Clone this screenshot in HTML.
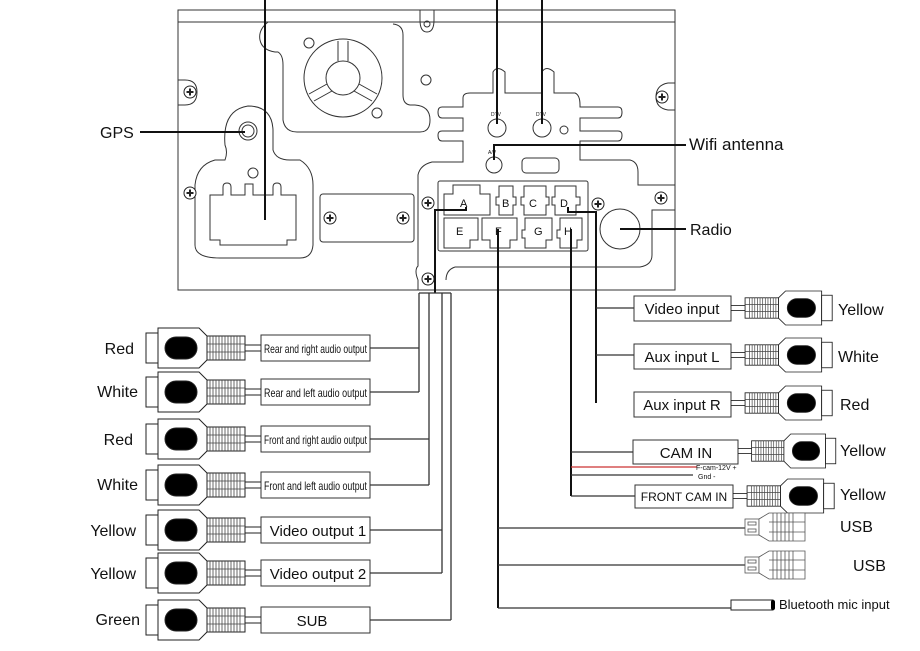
<!DOCTYPE html>
<html><head><meta charset="utf-8"><style>
body{margin:0;background:#fff}
svg{display:block}
text{font-family:"Liberation Sans",sans-serif;fill:#111}
</style></head><body>
<svg width="920" height="651" viewBox="0 0 920 651" xmlns="http://www.w3.org/2000/svg">
<defs>
<g id="plug" stroke="#222" stroke-width="1" fill="#fff">
 <line x1="-16" y1="-3" x2="0" y2="-3"/><line x1="-16" y1="3" x2="0" y2="3"/>
 <rect x="-54" y="-12" width="38" height="24"/>
 <path d="M-51-12V12M-48-12V12M-45-12V12M-42-12V12M-39-12V12M-36-12V12M-33-12V12M-30-12V12M-27-12V12M-24-12V12M-21-12V12M-54-4H-16M-54 4H-16" stroke="#444" stroke-width="0.8"/>
 <polygon points="-54,-12 -62,-20 -103,-20 -103,20 -62,20 -54,12"/>
 <rect x="-96" y="-11" width="32" height="22" rx="11" fill="#000"/>
 <rect x="-115" y="-15" width="12" height="30"/>
</g>
<g id="screw" fill="#fff" stroke="#222"><circle r="6"/><path d="M-3.5 0H3.5M0-3.5V3.5" stroke-width="2"/></g>
<g id="usb" stroke="#555" fill="#fff" stroke-width="0.8">
 <rect x="0" y="-8" width="14" height="16"/>
 <rect x="3" y="-5" width="8" height="3"/><rect x="3" y="2" width="8" height="3"/>
 <polygon points="14,-8 24,-14 60,-14 60,14 24,14 14,8"/>
 <path d="M28-14V14M32-14V14M36-14V14M40-14V14M44-14V14M48-14V14M24-5H60M24 5H60"/>
</g>
</defs>

<!-- device -->
<g fill="none" stroke="#333" stroke-width="1">
 <rect x="178" y="10" width="497" height="280"/>
 <line x1="178" y1="22" x2="675" y2="22"/>
 <path d="M178 80H185Q197 80 197 92Q197 105 185 105H178"/>
 <path d="M675 83H668Q656 85 656 97Q656 108 668 110H675"/>
 <path d="M420 10V20Q420 32 427 32Q434 32 434 20V10"/>
 <circle cx="427" cy="24" r="3"/>
 <path d="M268 22Q258 30 260 40Q262 50 275 52H278Q283 55 283 65V120Q285 132 297 132H420Q430 132 430 120Q430 106 415 105H410Q403 104 403 95V35Q403 25 393 24"/>
 <circle cx="343" cy="78" r="39"/><circle cx="343" cy="78" r="17"/>
 <path d="M338 41V61M348 41V61M327 84L309 94M332 91L314 101M359 84L377 94M354 91L372 101"/>
 <circle cx="309" cy="43" r="5"/><circle cx="377" cy="113" r="5"/>
 <circle cx="426" cy="80" r="5"/>
 <path d="M220 258Q195 258 195 245V185Q197 165 215 160H225Q228 152 225 145Q222 110 248 106Q272 106 273 130V150Q276 160 290 160H300Q313 168 313 185V245Q312 258 300 258Z"/>
 <circle cx="248" cy="131" r="9"/><circle cx="248" cy="131" r="6"/>
 <circle cx="253" cy="173" r="5"/>
 <path d="M210 195H223V187Q223 183 227 183Q231 183 231 187V195H245V184H253V195H273V187Q273 183 277 183Q281 183 281 187V195H296V240H287V245H220V240H210Z"/>
 <rect x="320" y="194" width="94" height="48" rx="3"/>
 <path d="M418 290V280Q414 270 418 266V175Q420 165 432 162H463V141H442Q438 141 438 135Q438 131 442 131H463V118H442Q438 118 438 112Q438 107 442 107H463V98Q463 93 470 93H493V72Q497 65 505 72V93H542V72Q546 65 554 72V93H575Q580 95 580 105V107H618Q622 107 622 112Q622 118 618 118H580V131H618Q622 131 622 135Q622 141 618 141H580V160H630Q638 162 638 172V185H675"/>
 <path d="M455 267H640Q652 265 652 255V210H675"/>
 <path d="M455 267Q446 270 446 280"/>
 <circle cx="497" cy="128" r="9"/><circle cx="542" cy="128" r="9"/><circle cx="494" cy="165" r="8"/>
 <circle cx="564" cy="130" r="4"/>
 <rect x="522" y="158" width="37" height="15" rx="4"/>
 <circle cx="620" cy="229" r="20"/>
 <rect x="438" y="181" width="150" height="70" rx="2"/>
 <path d="M444 215V194H453V185H480V194H490V215Z"/>
 <path d="M499 215V205H496V197H499V186H513V197H516V205H513V215Z"/>
 <path d="M524 215V205H521V197H524V186H546V197H549V205H546V215Z"/>
 <path d="M555 215V205H552V197H555V186H576V197H580V205H576V215Z"/>
 <path d="M444 248V218H478V240H470V248Z"/>
 <path d="M482 218H517V240H510V248H490V240H482Z"/>
 <path d="M525 248V238H522V230H525V218H552V240H546V248Z"/>
 <path d="M560 248V238H557V230H560V218H582V240H577V248Z"/>
</g>
<g font-size="11">
 <text x="460" y="207">A</text><text x="502" y="207">B</text><text x="529" y="207">C</text><text x="560" y="207">D</text>
 <text x="456" y="235">E</text><text x="495" y="235">F</text><text x="534" y="235">G</text><text x="564" y="235">H</text>
</g>
<g font-size="5" fill="#555"><text x="491" y="116">DTV</text><text x="536" y="116">DTV</text><text x="488" y="154">A/V</text></g>
<use href="#screw" x="190" y="92"/><use href="#screw" x="190" y="193"/>
<use href="#screw" x="330" y="218"/><use href="#screw" x="403" y="218"/>
<use href="#screw" x="428" y="203"/><use href="#screw" x="428" y="279"/>
<use href="#screw" x="598" y="204"/><use href="#screw" x="662" y="97"/><use href="#screw" x="661" y="198"/>

<g stroke="#111" stroke-width="2" fill="none">
 <path d="M140 132H245"/>
 <path d="M265 0V220"/>
 <path d="M497 0V124M542 0V124"/>
 <path d="M494 160V145H686"/>
 <path d="M620 229H686"/>
 <path d="M466 207V210H435V293"/>
 <path d="M568 207V212H596V403"/>
 <path d="M498 229V608"/>
 <path d="M571 229V496"/>
</g>
<text x="100" y="138" font-size="16">GPS</text>
<text x="689" y="150" font-size="17">Wifi antenna</text>
<text x="690" y="235" font-size="16">Radio</text>

<g stroke="#333" stroke-width="1.3" fill="none">
 <path d="M419 293H451"/>
 <path d="M419 293V392M370 348H419M370 392H419"/>
 <path d="M429 293V485M370 439H429M370 485H429"/>
 <path d="M442 293V573M370 530H442M370 573H442"/>
 <path d="M451 293V620M370 620H451"/>
 <path d="M596 308H634M596 355H634"/>
 <path d="M571 452H633M571 496H635"/>
 <path d="M571 475H693"/>
 <path d="M498 528H745M498 565H745M498 608H731"/>
</g>
<path d="M571 467H697" stroke="#c33" stroke-width="1.3"/>
<text x="696" y="470" font-size="7">F-cam-12V +</text>
<text x="698" y="479" font-size="7">Gnd -</text>

<g fill="#fff" stroke="#333">
 <rect x="261" y="335" width="109" height="26"/><rect x="261" y="379" width="109" height="26"/>
 <rect x="261" y="426" width="109" height="26"/><rect x="261" y="472" width="109" height="26"/>
 <rect x="261" y="517" width="109" height="26"/><rect x="261" y="560" width="109" height="26"/>
 <rect x="261" y="607" width="109" height="26"/>
</g>
<g font-size="12">
 <text x="264" y="353" textLength="103" lengthAdjust="spacingAndGlyphs">Rear and right audio output</text>
 <text x="264" y="397" textLength="103" lengthAdjust="spacingAndGlyphs">Rear and left audio output</text>
 <text x="264" y="444" textLength="103" lengthAdjust="spacingAndGlyphs">Front and right audio output</text>
 <text x="264" y="490" textLength="103" lengthAdjust="spacingAndGlyphs">Front and left audio output</text>
</g>
<g font-size="15" text-anchor="middle">
 <text x="318" y="536">Video output 1</text>
 <text x="318" y="579">Video output 2</text>
 <text x="312" y="626">SUB</text>
</g>
<use href="#plug" transform="translate(261,348)"/>
<use href="#plug" transform="translate(261,392)"/>
<use href="#plug" transform="translate(261,439)"/>
<use href="#plug" transform="translate(261,485)"/>
<use href="#plug" transform="translate(261,530)"/>
<use href="#plug" transform="translate(261,573)"/>
<use href="#plug" transform="translate(261,620)"/>
<g font-size="16" text-anchor="end">
 <text x="134" y="354">Red</text><text x="138" y="397">White</text>
 <text x="133" y="445">Red</text><text x="138" y="490">White</text>
 <text x="136" y="536">Yellow</text><text x="136" y="579">Yellow</text>
 <text x="140" y="625">Green</text>
</g>

<g fill="#fff" stroke="#333">
 <rect x="634" y="296" width="97" height="25"/>
 <rect x="634" y="344" width="97" height="25"/>
 <rect x="634" y="392" width="97" height="25"/>
 <rect x="633" y="440" width="105" height="24"/>
 <rect x="635" y="485" width="98" height="23"/>
</g>
<g font-size="15" text-anchor="middle">
 <text x="682" y="314">Video input</text>
 <text x="682" y="362">Aux input L</text>
 <text x="682" y="410">Aux input R</text>
 <text x="686" y="458">CAM IN</text>
 <text x="684" y="501" font-size="12">FRONT CAM IN</text>
</g>
<use href="#plug" transform="translate(731,308) scale(-0.88,0.85)"/>
<use href="#plug" transform="translate(731,355) scale(-0.88,0.85)"/>
<use href="#plug" transform="translate(731,403) scale(-0.88,0.85)"/>
<use href="#plug" transform="translate(738,451) scale(-0.85,0.85)"/>
<use href="#plug" transform="translate(733,496) scale(-0.88,0.85)"/>
<g font-size="16">
 <text x="838" y="315">Yellow</text><text x="838" y="362">White</text>
 <text x="840" y="410">Red</text><text x="840" y="456">Yellow</text>
 <text x="840" y="500">Yellow</text>
 <text x="840" y="532">USB</text><text x="853" y="571">USB</text>
</g>
<use href="#usb" transform="translate(745,527)"/>
<use href="#usb" transform="translate(745,565)"/>
<rect x="731" y="600" width="42" height="10" fill="#fff" stroke="#222"/>
<rect x="771" y="600" width="4" height="10" rx="2" fill="#000"/>
<text x="779" y="609" font-size="13">Bluetooth mic input</text>
</svg>
</body></html>
